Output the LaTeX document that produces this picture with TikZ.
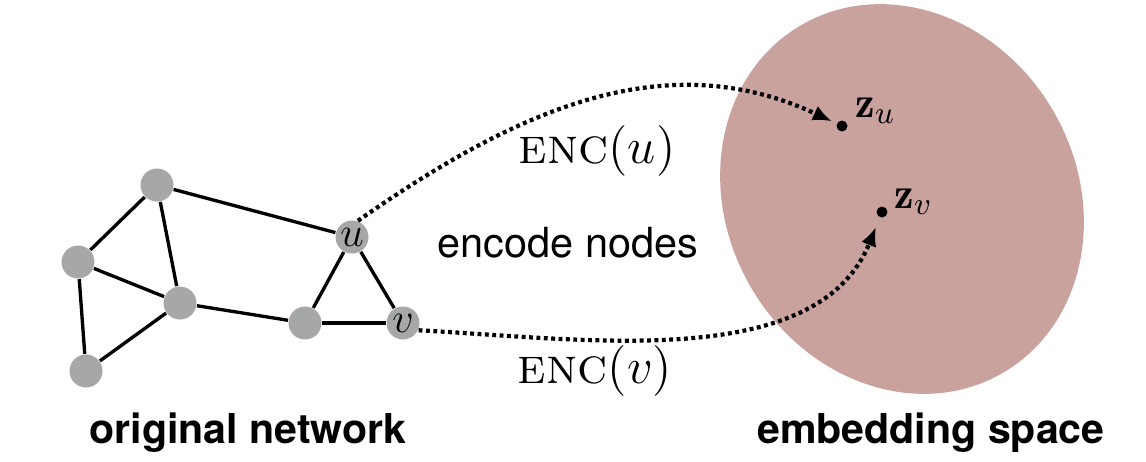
\documentclass[tikz,border=0pt]{standalone}
\usepackage{amsmath,amssymb}
\usepackage{fontspec}
\setsansfont{TeX Gyre Heros}
\usetikzlibrary{arrows.meta}
\definecolor{vtxgray}{RGB}{166,168,167}
\definecolor{embrose}{RGB}{201,162,158}

\begin{document}
\begin{tikzpicture}[
  vtx/.style={circle,fill=vtxgray,minimum size=3.3mm,inner sep=0pt,font=\fontsize{11.5}{12}\selectfont},
  pt/.style={circle,fill=black,minimum size=1.1mm,inner sep=0pt},
  zlab/.style={anchor=west,inner sep=0pt,font=\fontsize{12.5}{13}\selectfont},
  enclab/.style={anchor=base,inner sep=0pt,font=\fontsize{14.5}{16}\selectfont},
  caption/.style={anchor=base,inner sep=0pt,font=\sffamily\bfseries\fontsize{11.7}{13}\selectfont},
  encmap/.style={line width=1.2pt,dash pattern=on 1.1pt off 1pt,-{Latex[length=1.9mm,width=1.6mm]}},
  every edge/.style={draw=black,line width=.95pt}]
  \useasboundingbox (0,0) rectangle (11.46,4.61);
  % embedding space
  \fill[embrose,rotate around={30:(9.02,2.62)}] (9.02,2.62) ellipse [x radius=1.75,y radius=2.01];
  % original network
  \node[vtx] (a) at (1.57,2.76) {};
  \node[vtx] (b) at (0.78,1.99) {};
  \node[vtx] (c) at (1.80,1.58) {};
  \node[vtx] (d) at (0.86,0.90) {};
  \node[vtx] (e) at (3.05,1.38) {};
  \node[vtx] (u) at (3.52,2.24) {$u$};
  \node[vtx] (v) at (4.03,1.38) {$v$};
  \foreach \s/\t in {a/b,a/c,a/u,b/c,b/d,c/d,c/e,e/u,e/v,u/v}
    \draw (\s) edge (\t);
  % embedded points
  \node[pt] (zu) at (8.42,3.35) {};
  \node[pt] (zv) at (8.82,2.49) {};
  \node[zlab] (zulab) at (8.55,3.50) {$\mathbf{z}_u$};
  \node[zlab] (zvlab) at (8.94,2.59) {$\mathbf{z}_v$};
  \draw[encmap,shorten >=0.5mm] (u.70) to[out=35,in=155] (zu);
  \draw[encmap,shorten >=1mm] (v.-25) to[out=-3,in=-112,looseness=0.9] (zv);
  \node[enclab] (encu) at (5.97,2.98) {\textsc{enc}$(u)$};
  \node[enclab] (encv) at (5.95,0.78) {\textsc{enc}$(v)$};
  \node[anchor=base,inner sep=0pt,font=\sffamily\fontsize{11.8}{13}\selectfont] (mid) at (5.68,2.04) {encode nodes};
  \node[caption] (orig) at (2.48,0.18) {original network};
  \node[caption] (emb) at (9.31,0.18) {embedding space};
\end{tikzpicture}
\end{document}
